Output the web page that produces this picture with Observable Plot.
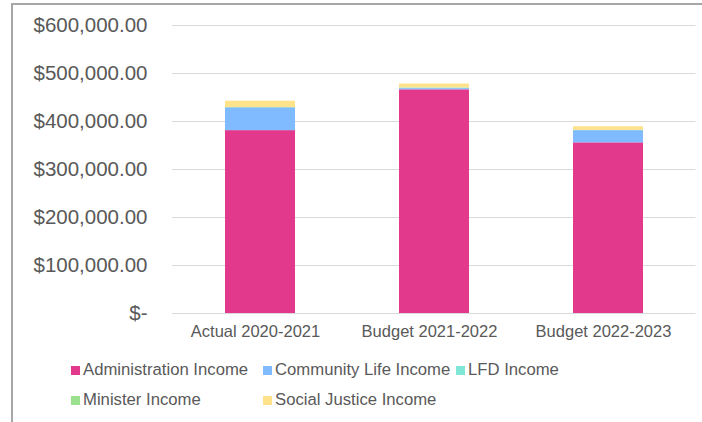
<!DOCTYPE html>
<html><head><meta charset="utf-8">
<script src="https://cdn.jsdelivr.net/npm/d3@7"></script>
<script src="https://cdn.jsdelivr.net/npm/@observablehq/plot@0.6"></script>
<style>
body{margin:0;background:#fff;width:702px;height:422px;overflow:hidden;position:relative;font-family:"Liberation Sans",Arial,sans-serif;}
#frame{position:absolute;left:11px;top:3px;width:800px;height:500px;border-left:2px solid #a6a6a6;border-top:2px solid #a6a6a6;}
#chart{position:absolute;left:0;top:0;}
#legend{position:absolute;left:0;top:0;width:702px;height:422px;}
.item{position:absolute;display:flex;align-items:center;height:20px;font-size:16.7px;color:#595959;white-space:nowrap;}
.sw{width:9px;height:9px;margin-right:3px;flex:none;}
</style></head><body>
<div id="frame"></div><div id="chart"></div><div id="legend"></div>
<script>
const categories = ["Actual 2020-2021", "Budget 2021-2022", "Budget 2022-2023"];
const seriesNames = ["Administration Income", "Community Life Income", "LFD Income", "Minister Income", "Social Justice Income"];
const seriesColors = ["#e2398c", "#80bbff", "#80e6d6", "#9be08f", "#ffe28a"];
const adminIncome = [381000, 466000, 355500];
const communityLifeIncome = [47500, 2500, 25500];
const lfdIncome = [0, 1200, 0];
const ministerIncome = [800, 300, 600];
const socialJusticeIncome = [13000, 8000, 7500];
const yTicks = [0, 100000, 200000, 300000, 400000, 500000, 600000];

const seriesValues = [adminIncome, communityLifeIncome, lfdIncome, ministerIncome, socialJusticeIncome];
const data = [];
seriesNames.forEach((s, si) => categories.forEach((c, ci) => data.push({category: c, series: s, value: seriesValues[si][ci]})));

const fmt = d3.format(",.2f");
const chart = Plot.plot({
  width: 702, height: 345,
  marginLeft: 172, marginRight: 6.5, marginTop: 25, marginBottom: 32,
  style: {fontFamily: "'Liberation Sans', Arial, sans-serif", background: "transparent"},
  x: {domain: categories, paddingInner: 0.6, paddingOuter: 0.3},
  y: {domain: [0, 600000]},
  color: {domain: seriesNames, range: seriesColors},
  marks: [
    Plot.gridY(yTicks, {stroke: "#d9d9d9", strokeOpacity: 1, strokeWidth: 1}),
    Plot.barY(data, {x: "category", y: "value", fill: "series"}),
    Plot.axisY(yTicks, {tickSize: 0, tickPadding: 25, fontSize: 20.5, color: "#595959", label: null,
      tickFormat: d => d === 0 ? "$-" : "$" + fmt(d)}),
    Plot.axisX({tickSize: 0, tickPadding: 12, fontSize: 16.5, color: "#595959", label: null, dx: -5})
  ]
});
document.getElementById("chart").appendChild(chart);

const legend = document.getElementById("legend");
const colX = [71, 263, 456];
const rowY = [370, 400];
seriesNames.forEach((s, i) => {
  const row = Math.floor(i / 3), col = i % 3;
  const it = document.createElement("div");
  it.className = "item";
  it.style.left = colX[col] + "px";
  it.style.top = (rowY[row] - 10) + "px";
  const sw = document.createElement("span");
  sw.className = "sw";
  sw.style.background = seriesColors[i];
  const tx = document.createElement("span");
  tx.textContent = s;
  it.appendChild(sw); it.appendChild(tx);
  legend.appendChild(it);
});
</script>
</body></html>
